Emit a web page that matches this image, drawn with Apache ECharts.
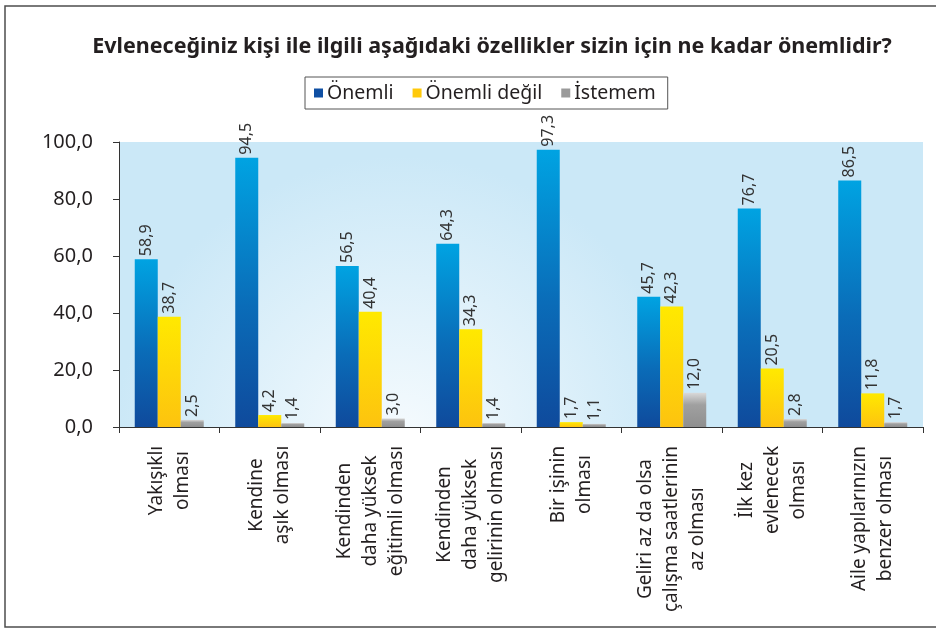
<!DOCTYPE html>
<html>
<head>
<meta charset="utf-8">
<script src="https://cdn.jsdelivr.net/npm/echarts@6/dist/echarts.min.js"></script>
<style>
  html, body { margin: 0; padding: 0; background: #fff; }
  #main { width: 936px; height: 629px; }
</style>
</head>
<body>
<div id="main"></div>
<script>
// Categories (line breaks as in the original)
const categories = [
  "Yakışıklı\nolması",
  "Kendine\naşık olması",
  "Kendinden\ndaha yüksek\neğitimli olması",
  "Kendinden\ndaha yüksek\ngelirinin olması",
  "Bir işinin\nolması",
  "Geliri az da olsa\nçalışma saatlerinin\naz olması",
  "İlk kez\nevlenecek\nolması",
  "Aile yapılarınızın\nbenzer olması"
];

const onemli = [58.9, 94.5, 56.5, 64.3, 97.3, 45.7, 76.7, 86.5];
const onemliDegil = [38.7, 4.2, 40.4, 34.3, 1.7, 42.3, 20.5, 11.8];
const istemem = [2.5, 1.4, 3.0, 1.4, 1.1, 12.0, 2.8, 1.7];

const seriesNames = ["Önemli", "Önemli değil", "İstemem"];

const FONT = '"Noto Sans", sans-serif';
const textColor = "#231f20";

// Format numbers with a comma as decimal separator
const fmt = (v) => v.toFixed(1).replace(".", ",");

// Measure the longest line of each category so the lines can be centred
const ctx = document.createElement("canvas").getContext("2d");
const xLabelSize = 19;
ctx.font = `${xLabelSize}px ${FONT}`;
const rich = {};
categories.forEach((c, i) => {
  const w = Math.max(...c.split("\n").map((l) => ctx.measureText(l).width));
  rich["c" + i] = {
    width: Math.ceil(w) + 1,
    align: "center",
    fontSize: xLabelSize,
    lineHeight: 26,
    fontFamily: FONT,
    color: textColor
  };
});

const grad = (stops) => new echarts.graphic.LinearGradient(0, 0, 0, 1, stops);

const barColors = [
  grad([
    { offset: 0, color: "#00a3e2" },
    { offset: 0.55, color: "#0a6cb8" },
    { offset: 1, color: "#0f4a9c" }
  ]),
  grad([
    { offset: 0, color: "#ffe900" },
    { offset: 1, color: "#fdc30f" }
  ]),
  grad([
    { offset: 0, color: "#d9d9d9" },
    { offset: 0.35, color: "#a0a0a0" },
    { offset: 1, color: "#8f8f8f" }
  ])
];
const legendColors = ["#0f4fa3", "#ffc90a", "#9a9a9a"];

const valueLabel = {
  show: true,
  position: "top",
  rotate: 90,
  align: "left",
  verticalAlign: "middle",
  distance: 3,
  fontSize: 16,
  fontFamily: FONT,
  color: "#333",
  formatter: (p) => fmt(p.value)
};

const makeSeries = (name, data, i) => ({
  name: name,
  type: "bar",
  data: data,
  barWidth: 23,
  barGap: "0%",
  itemStyle: { color: barColors[i] },
  label: valueLabel,
  emphasis: { disabled: true }
});

const chartConfig = {
  animation: false,
  textStyle: { fontFamily: FONT },
  title: {
    text: "Evleneceğiniz kişi ile ilgili aşağıdaki özellikler sizin için ne kadar önemlidir?",
    left: 487,
    textAlign: "center",
    top: 31,
    textStyle: { fontSize: 21.5, fontWeight: "bold", color: textColor, fontFamily: FONT }
  },
  legend: {
    top: 77,
    left: 305,
    icon: "rect",
    itemWidth: 9,
    itemHeight: 9,
    itemGap: 19,
    padding: [6, 12, 6, 9],
    borderColor: "#555",
    borderWidth: 1,
    textStyle: { fontSize: 19.5, color: textColor, fontFamily: FONT, padding: [0, 0, 0, -1] },
    data: seriesNames.map((n, i) => ({ name: n, itemStyle: { color: legendColors[i] } }))
  },
  grid: {
    left: 119,
    right: 13,
    top: 142,
    bottom: 202,
    show: true,
    borderWidth: 0,
    backgroundColor: new echarts.graphic.RadialGradient(0.35, 1.05, 1.0, [
      { offset: 0, color: "#f6fbfe" },
      { offset: 1, color: "#cbe8f7" }
    ])
  },
  xAxis: {
    type: "category",
    data: categories,
    axisLine: { lineStyle: { color: "#333", width: 1 } },
    axisTick: { show: true, length: 6, lineStyle: { color: "#333" } },
    axisLabel: {
      rotate: 90,
      margin: 18,
      interval: 0,
      formatter: (value, idx) =>
        value.split("\n").map((l) => `{c${idx}|${l}}`).join("\n"),
      rich: rich
    }
  },
  yAxis: {
    type: "value",
    min: 0,
    max: 100,
    interval: 20,
    axisLine: { show: true, lineStyle: { color: "#333", width: 1 } },
    axisTick: { show: true, length: 6, lineStyle: { color: "#333" } },
    splitLine: { show: false },
    axisLabel: {
      margin: 26,
      fontSize: 20,
      color: textColor,
      fontFamily: FONT,
      formatter: (v) => fmt(v)
    }
  },
  graphic: [
    {
      type: "rect",
      shape: { x: 5, y: 6, width: 1000, height: 621 },
      style: { fill: "none", stroke: "#4d4d4d", lineWidth: 1.5 },
      silent: true
    }
  ],
  series: [
    makeSeries(seriesNames[0], onemli, 0),
    makeSeries(seriesNames[1], onemliDegil, 1),
    makeSeries(seriesNames[2], istemem, 2)
  ]
};

const chart = echarts.init(document.getElementById("main"), null, { renderer: "canvas" });
chart.setOption(chartConfig);
window.addEventListener("resize", () => chart.resize());
</script>
</body>
</html>
